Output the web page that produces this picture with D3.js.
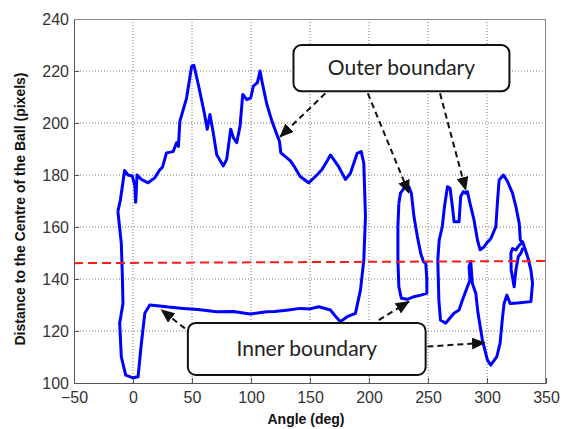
<!DOCTYPE html>
<html>
<head>
<meta charset="utf-8">
<script src="https://cdn.jsdelivr.net/npm/d3@7"></script>
<style>
    body { margin: 0; background: #fff; }
    #chart { width: 569px; height: 429px; }
    .tick text { font-family: "Liberation Sans", Arial, sans-serif; font-size: 16px; fill: #333; }
    .axis-title { font-family: "Liberation Sans", Arial, sans-serif; font-weight: bold; font-size: 14px; fill: #111; }
    .callout text { font-family: Lato, "Open Sans", sans-serif; font-size: 21px; fill: #222; }
</style>
</head>
<body>
<div id="chart"></div>
<script>

// boundary traces, [angle (deg), distance (pixels)]
const leftLoop = [
    [-12.8,166],[-10.7,170.4],[-7.1,181.7],[-4.2,180],[-0.6,179.6],[1.5,176],[2.3,169.5],[3.4,180],
    [7.1,178.3],[12.8,177],[18.4,178.9],[22.7,182],[25,183],[28.4,188.5],[34,189],[36.9,192.4],
    [38.5,191],[39.7,200.6],[45.4,209.6],[49.7,221.8],[51.6,222.2],[55.3,214.9],[60.1,204.6],
    [62.9,197.6],[65.2,203.3],[68,196.3],[70.9,187.9],[76.5,183.5],[79.4,186],[82.8,197.6],
    [85,194.4],[87.9,192.4],[90.7,198.8],[93,211],[96.4,209],[99.8,209.7],[102,214.2],[105.4,215.5],
    [107.7,220],[109.2,216.2],[113.4,207.2],[117.7,200.8],[121.3,196.3],[124.1,193],[125.3,188.5],
    [133.2,185.5],[137,183],[141.7,179.4],[148.8,177],[155.9,180],[160,182],[164,185],[167.3,187.7],
    [170,186],[174.3,183.2],[180,178.3],[184.2,180.6],[189.9,188.3],[193.4,189],[195.6,184.5],
    [197,164],[195.6,147.3],[192.8,135.8],[188.5,126.8],[181.5,125.5],[175.8,123.6],[171,126],
    [167.3,128.1],[157.4,129.3],[150,128.5],[141.8,128.7],[130,128],[120,127.5],[113.4,127.4],
    [99.2,126.5],[85,127.5],[70.9,127.4],[55,128.3],[42.5,128.7],[30,129.2],[22.7,129.6],[14.2,130],
    [10,126.8],[7.1,115.3],[4.3,102.4],[0,102],[-6.2,103],[-9.9,110.1],[-11.3,123],[-8.5,130.6],
    [-9,140.9],[-9.9,153.7],[-12.8,166]
];

const middleLoop = [
    [225.3,169.1],[226.7,173],[229.6,174.9],[233.8,175.5],[235.9,173],[238.1,164],[241,156.3],
    [243.8,149.9],[246.1,146.7],[248.1,146],[249,140],[249,134.5],[243.8,133.8],[238.1,133.2],
    [232.5,132.2],[227.4,132.6],[225.3,137],[224.5,147.3],[224.5,160.1],[225.3,169.1]
];

const rightLoop = [
    [258.3,147.3],[259.5,155],[262.1,160.1],[264,168],[266.5,175.5],[268.7,174.9],[270.7,167.8],
    [272.1,162],[276.3,162],[277.7,171.7],[280,173.6],[282,173],[283.4,173.6],[285.6,169.1],
    [289,162.7],[291.9,155],[294.2,151.2],[297.6,152.4],[300,154],[303.3,155.6],[307.5,160.1],
    [309,170.4],[310.3,178.1],[314,180],[317.4,177.5],[321.6,173],[324.5,167.8],[327.3,161.4],
    [328.2,155],[330.2,154.3],[334.4,148.6],[337.2,143.5],[338.6,138.3],[337.2,131.3],[325.9,130.8],
    [319.6,130.6],[316.8,133.8],[314.5,130.6],[313.2,125.5],[311.1,115.3],[308.3,110.1],[303.2,106.9],
    [300.4,108.8],[296.1,116.5],[292.4,126.8],[290.5,134.5],[287.6,138.3],[286.2,146.7],[284.8,144.7],
    [285.6,139.6],[283.4,137],[279.2,131.9],[276.3,128.1],[272,126.8],[264.9,123],[260.6,124.2],
    [259.2,131.9],[258.3,147.3]
];

const rightInnerLoop = [
    [330.2,154.3],[327,152.8],[324.5,151.2],[321.6,151.7],[320.2,149.9],[320.5,143.5],[323,137],
    [324.5,143.5],[326.5,148.6],[328.7,149.9],[330.5,152]
];

// red dashed reference line
const meanLine = [[-50,146.1],[350,146.9]];

const xTicks = [-50, 0, 50, 100, 150, 200, 250, 300, 350];
const yTicks = [100, 120, 140, 160, 180, 200, 220, 240];

// callouts in data units
const callouts = [
    {label: "Outer boundary", x0: 136, x1: 319, y0: 230, y1: 212.2},
    {label: "Inner boundary", x0: 46.5, x1: 248, y0: 123.1, y1: 103.1}
];
const arrowStarts = [[163,211.4],[199,211.4],[260.2,211.4],[44,121],[208.3,124.2],[249.5,114]];
const arrowTips = [[124.7,194.7],[233.8,173],[282,174.2],[24.1,128.1],[233.8,131.3],[298.2,115.5]];

const margin = {top: 19, right: 23, bottom: 46, left: 74};
const width = 569 - margin.left - margin.right;
const height = 429 - margin.top - margin.bottom;

const svg = d3.select("#chart").append("svg")
    .attr("width", 569)
    .attr("height", 429);

const g = svg.append("g")
    .attr("transform", `translate(${margin.left}, ${margin.top})`);

const x = d3.scaleLinear().domain([-50, 350]).range([0, width]);
const y = d3.scaleLinear().domain([100, 240]).range([height, 0]);

// grid
g.append("g").selectAll("line")
    .data(xTicks.slice(1, -1))
    .join("line")
    .attr("x1", d => x(d)).attr("x2", d => x(d))
    .attr("y1", 0).attr("y2", height)
    .attr("stroke", "#777").attr("stroke-width", 1).attr("stroke-dasharray", "1,2");

g.append("g").selectAll("line")
    .data(yTicks.slice(1, -1))
    .join("line")
    .attr("y1", d => y(d)).attr("y2", d => y(d))
    .attr("x1", 0).attr("x2", width)
    .attr("stroke", "#777").attr("stroke-width", 1).attr("stroke-dasharray", "1,2");

// axes
const xAxis = d3.axisBottom(x).tickValues(xTicks).tickSize(-5).tickPadding(9);
const yAxis = d3.axisLeft(y).tickValues(yTicks).tickSize(-5).tickPadding(5);

g.append("g").attr("class", "axis x-axis")
    .attr("transform", `translate(0, ${height})`)
    .call(xAxis)
    .call(a => a.selectAll("line, path").attr("stroke", "#555"));

g.append("g").attr("class", "axis y-axis")
    .call(yAxis)
    .call(a => a.selectAll("line, path").attr("stroke", "#555"));

// top / right box edges
g.append("line").attr("x1", 0).attr("x2", width).attr("y1", 0.5).attr("y2", 0.5).attr("stroke", "#888");
g.append("line").attr("x1", width - 0.5).attr("x2", width - 0.5).attr("y1", 0).attr("y2", height).attr("stroke", "#888");

// boundary curves
const line = d3.line().x(d => x(d[0])).y(d => y(d[1]));

[leftLoop, middleLoop, rightLoop, rightInnerLoop].forEach(trace => {
    g.append("path")
        .datum(trace)
        .attr("d", line)
        .attr("fill", "none")
        .attr("stroke", "#0000ff")
        .attr("stroke-width", 3)
        .attr("stroke-linejoin", "round");
});

g.append("path")
    .datum(meanLine)
    .attr("d", line)
    .attr("fill", "none")
    .attr("stroke", "#ff1a1a")
    .attr("stroke-width", 2)
    .attr("stroke-dasharray", "9,5");

// arrow head
svg.append("defs").append("marker")
    .attr("id", "head")
    .attr("markerUnits", "userSpaceOnUse")
    .attr("viewBox", "0 0 14 12")
    .attr("markerWidth", 14).attr("markerHeight", 12)
    .attr("refX", 13).attr("refY", 6)
    .attr("orient", "auto")
    .append("path")
    .attr("d", "M0,0 L14,6 L0,12 Z")
    .attr("fill", "#111");

g.append("g").selectAll("line")
    .data(arrowStarts.map((s, i) => [s, arrowTips[i]]))
    .join("line")
    .attr("x1", d => x(d[0][0])).attr("y1", d => y(d[0][1]))
    .attr("x2", d => x(d[1][0])).attr("y2", d => y(d[1][1]))
    .attr("stroke", "#111")
    .attr("stroke-width", 2)
    .attr("stroke-dasharray", "6,4")
    .attr("marker-end", "url(#head)");

// callout boxes
const box = g.append("g").selectAll("g")
    .data(callouts)
    .join("g")
    .attr("class", "callout");

box.append("rect")
    .attr("x", d => x(d.x0)).attr("y", d => y(d.y0))
    .attr("width", d => x(d.x1) - x(d.x0))
    .attr("height", d => y(d.y1) - y(d.y0))
    .attr("rx", 8)
    .attr("fill", "#fff")
    .attr("stroke", "#111")
    .attr("stroke-width", 2);

box.append("text")
    .attr("x", d => (x(d.x0) + x(d.x1)) / 2)
    .attr("y", d => (y(d.y0) + y(d.y1)) / 2 + 7)
    .attr("text-anchor", "middle")
    .text(d => d.label);

// axis titles
svg.append("text")
    .attr("class", "axis-title")
    .attr("x", 306).attr("y", 424)
    .attr("text-anchor", "middle")
    .text("Angle (deg)");

svg.append("text")
    .attr("class", "axis-title")
    .attr("transform", "translate(25, 209) rotate(-90)")
    .attr("text-anchor", "middle")
    .text("Distance to the Centre of the Ball (pixels)");

</script>
</body>
</html>
